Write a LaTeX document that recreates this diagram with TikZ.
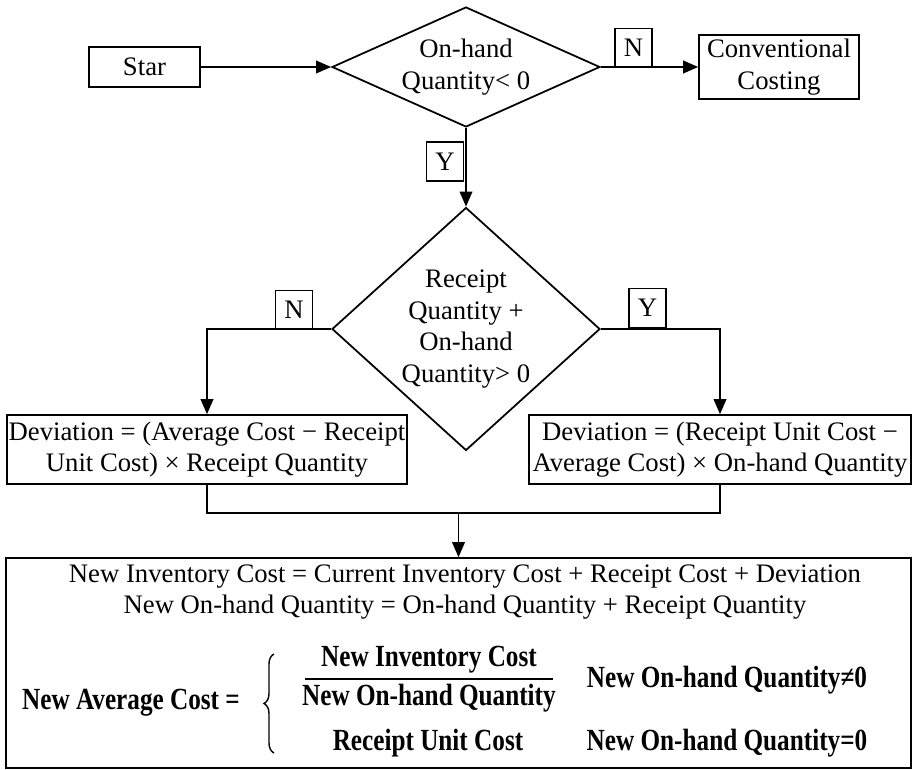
\documentclass[tikz,border=0pt]{standalone}
\usepackage{fontspec}
\setmainfont{Liberation Serif}
\newfontfamily\formfont{Liberation Serif}[FakeStretch=0.82]
\usetikzlibrary{shapes.geometric,arrows.meta,decorations.pathreplacing}
\begin{document}
\begin{tikzpicture}[x=0.02cm,y=-0.02cm,
  every node/.style={font=\fontsize{15.2}{18}\selectfont},
  box/.style={draw,line width=0.9pt,align=center,inner sep=0pt},
  decision/.style={draw,diamond,line width=1pt,align=center,inner sep=0pt,minimum width=5.36cm},
  answer/.style={draw,line width=0.9pt,inner sep=0pt,minimum width=0.74cm,minimum height=0.78cm},
  flow/.style={line width=1.1pt,-{Triangle[length=0.3cm,width=0.25cm]}},
  formula/.style={font=\formfont\bfseries\fontsize{17.5}{19}\selectfont,inner sep=0pt}]
\useasboundingbox (0,0) rectangle (913,770);
\node[box,minimum width=2.22cm,minimum height=0.8cm] (start) at (144.5,67) {Star};
\node[decision,aspect=2.23,minimum height=2.4cm] (onhand) at (466,67) {On-hand\\Quantity< 0};
\node[box,minimum width=3.2cm,minimum height=1.28cm] (conv) at (779,67) {Conventional\\Costing};
\node[decision,aspect=1.1,minimum height=4.86cm] (receipt) at (466,329) {Receipt\\Quantity +\\On-hand\\Quantity> 0};
\node[box,minimum width=8cm,minimum height=1.38cm] (devavg) at (207,449.5) {Deviation = (Average Cost − Receipt\\Unit Cost) × Receipt Quantity};
\node[box,minimum width=7.64cm,minimum height=1.38cm] (devrec) at (720,449.5) {Deviation = (Receipt Unit Cost −\\Average Cost) × On-hand Quantity};
\node[box,minimum width=18.1cm,minimum height=4.2cm] (result) at (458.5,663) {};
\node[answer] (no1) at (633.5,48) {N};
\node[answer] (yes1) at (445,161.5) {Y};
\node[answer] (no2) at (294,310) {N};
\node[answer] (yes2) at (647.5,308) {Y};
\draw[flow] (start) -- (onhand);
\draw[flow] (onhand) -- (conv);
\draw[flow] (onhand) -- (receipt);
\draw[flow] (receipt.west) -| (devavg);
\draw[flow] (receipt.east) -| (devrec);
\coordinate (merge) at (result.north |- 0,513);
\draw[line width=1.1pt] (devavg) |- (merge) -| (devrec);
\draw[flow] (merge) -- (result);
\node[box,draw=none] (sums) at (465,592) {New Inventory Cost = Current Inventory Cost + Receipt Cost + Deviation\\New On-hand Quantity = On-hand Quantity + Receipt Quantity};
\node[formula] (avg) at (131,703) {New Average Cost =};
\coordinate (bracelow) at (274,753);
\coordinate (bracehigh) at (274,654);
\draw[line width=0.8pt,decorate,decoration={brace,amplitude=0.2cm}] (bracelow) -- (bracehigh);
\node[formula] (num) at (429,660) {New Inventory Cost};
\node[formula] (den) at (429,698) {New On-hand Quantity};
\draw[line width=1.6pt] (305,679) -- (553,679);
\node[formula] (unit) at (428,743) {Receipt Unit Cost};
\node[formula] (nonzero) at (727,680) {New On-hand Quantity≠0};
\node[formula] (zero) at (727,743) {New On-hand Quantity=0};
\end{tikzpicture}
\end{document}
